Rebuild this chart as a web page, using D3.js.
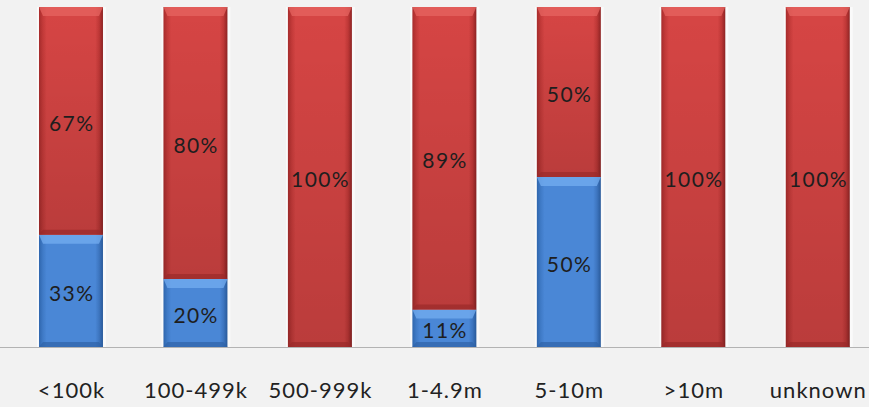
<!DOCTYPE html>
<html><head><meta charset="utf-8">
<script src="https://cdn.jsdelivr.net/npm/d3@7"></script>
<style>body{margin:0;background:#f2f2f2;}svg{display:block;}</style>
</head><body>
<svg id="c" width="869" height="407"></svg>
<script>
const categories = ["<100k","100-499k","500-999k","1-4.9m","5-10m",">10m","unknown"];
const blueValues = [33,20,0,11,50,0,0];
const redValues  = [67,80,100,89,50,100,100];

const svg = d3.select("#c");
const W = 869, H = 407;
svg.append("rect").attr("width",W).attr("height",H).attr("fill","#f2f2f2");

const x = d3.scaleBand().domain(categories).range([8.75, 880]).paddingInner(0.486).paddingOuter(0.243);
const y = d3.scaleLinear().domain([0,100]).range([347,7]);

const defs = svg.append("defs");
function grad(id, stops){
  const g = defs.append("linearGradient").attr("id",id).attr("x1",0).attr("y1",0).attr("x2",1).attr("y2",0);
  stops.forEach(s=>g.append("stop").attr("offset",s[0]).attr("stop-color",s[1]));
}
grad("redH",[[0,"#a82c2c"],[0.06,"#c43a39"],[0.12,"#d64544"],[0.88,"#d64544"],[0.94,"#c03837"],[1,"#8f2424"]]);
grad("blueH",[[0,"#2f66ad"],[0.06,"#3f7ac6"],[0.12,"#4a87d6"],[0.88,"#4a87d6"],[0.94,"#3d75bf"],[1,"#295a9a"]]);
const rv = defs.append("linearGradient").attr("id","redShade").attr("x1",0).attr("y1",0).attr("x2",0).attr("y2",1);
rv.append("stop").attr("offset",0).attr("stop-color","#000").attr("stop-opacity",0);
rv.append("stop").attr("offset",1).attr("stop-color","#000").attr("stop-opacity",0.13);

const segs = [];
categories.forEach((c,i)=>{
  if(blueValues[i]>0) segs.push({c, y0:0, y1:blueValues[i], v:blueValues[i], t:"blue"});
  segs.push({c, y0:blueValues[i], y1:blueValues[i]+redValues[i], v:redValues[i], t:"red"});
});

const bw = x.bandwidth();
svg.append("g").selectAll("rect").data(categories).join("rect")
  .attr("x",d=>x(d)-2).attr("y",y(100)).attr("width",bw+5).attr("height",y(0)-y(100))
  .attr("fill","#ffffff").attr("opacity",0.6);

const g = svg.append("g");
segs.forEach(s=>{
  const x0 = x(s.c), x1 = x0+bw, top = y(s.y1), bot = y(s.y0);
  const isRed = s.t==="red";
  g.append("rect").attr("x",x0).attr("y",top).attr("width",bw).attr("height",bot-top)
    .attr("fill", isRed?"url(#redH)":"url(#blueH)");
  if(isRed) g.append("rect").attr("x",x0).attr("y",top).attr("width",bw).attr("height",bot-top).attr("fill","url(#redShade)");
  const b = 9;
  const pts = [[x0,top],[x1,top],[x1-4,top+b],[x0+4,top+b]].map(p=>p.join(",")).join(" ");
  g.append("polygon").attr("points",pts).attr("fill", isRed?"#e66460":"#74aef0").attr("opacity",0.75);
  g.append("polygon").attr("points",[[x0+4,bot-5],[x1-4,bot-5],[x1,bot],[x0,bot]].map(p=>p.join(",")).join(" "))
    .attr("fill", isRed?"#9a2a2a":"#2f63a6").attr("opacity",0.7);
});

svg.append("line").attr("x1",0).attr("x2",W).attr("y1",347.5).attr("y2",347.5)
  .attr("stroke","#b3b3b3").attr("stroke-width",1);

svg.append("g").selectAll("text").data(segs).join("text")
  .attr("x",d=>x(d.c)+bw/2+0.7).attr("y",d=>(y(d.y0)+y(d.y1))/2+1.5)
  .attr("text-anchor","middle").attr("dominant-baseline","central")
  .attr("font-family","Lato, 'Open Sans', sans-serif").attr("font-size",21).attr("letter-spacing",1.4)
  .attr("fill","#1e1e1e").text(d=>d.v+"%");

const ax = svg.append("g").attr("transform","translate(0,347)")
  .call(d3.axisBottom(x).tickSize(0).tickPadding(35));
ax.select(".domain").remove();
ax.selectAll("text").attr("font-family","Lato, 'Open Sans', sans-serif").attr("font-size",22)
  .attr("letter-spacing",1).attr("dx",0.5).attr("fill","#222");
</script>
</body></html>
